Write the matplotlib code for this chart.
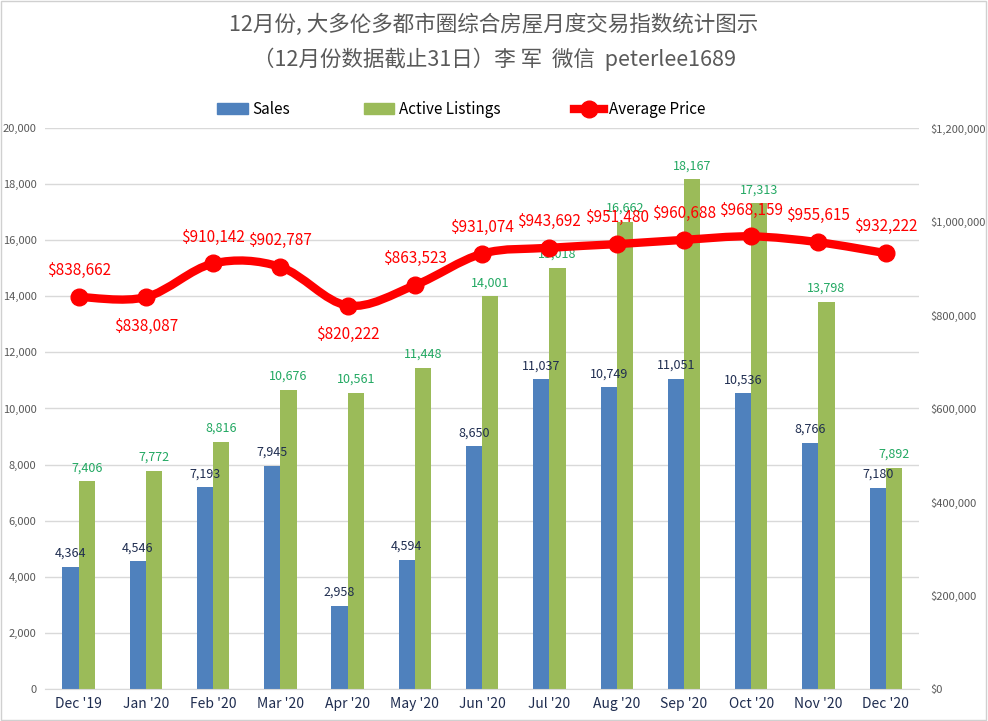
import numpy as np
import matplotlib.pyplot as plt
from matplotlib.path import Path
from matplotlib.patches import PathPatch, Rectangle
from matplotlib.lines import Line2D
from matplotlib.patches import Patch

plt.rcParams['font.family'] = ['Noto Sans CJK SC', 'DejaVu Sans']

months = ["Dec '19", "Jan '20", "Feb '20", "Mar '20", "Apr '20", "May '20", "Jun '20",
          "Jul '20", "Aug '20", "Sep '20", "Oct '20", "Nov '20", "Dec '20"]
sales = [4364, 4546, 7193, 7945, 2958, 4594, 8650, 11037, 10749, 11051, 10536, 8766, 7180]
listings = [7406, 7772, 8816, 10676, 10561, 11448, 14001, 15018, 16662, 18167, 17313, 13798, 7892]
prices = [838662, 838087, 910142, 902787, 820222, 863523, 931074, 943692, 951480,
          960688, 968159, 955615, 932222]
price_below = [False, True, False, False, True, False, False, False, False, False, False, False, False]

blue = '#4f81bd'
green = '#9bbb59'
red = '#ff0000'
grey = '#595959'

fig = plt.figure(figsize=(9.88, 7.21), dpi=100)
fig.patches.append(Rectangle((0.001, 0.001), 0.997, 0.997, transform=fig.transFigure,
                             fill=False, edgecolor='#d0d0d0', lw=1))
ax = fig.add_axes([0.0455, 0.0444, 0.885, 0.7781])
ax2 = ax.twinx()

x = np.arange(len(months))
w = 0.24
ax.bar(x - w / 2, sales, w, color=blue, zorder=2)
ax.bar(x + w / 2, listings, w, color=green, zorder=2)
for i in range(len(x)):
    ax.text(x[i] - w / 2, sales[i] + 250, f'{sales[i]:,}', ha='center', va='bottom',
            fontsize=9, color='#1f2d50', zorder=3)
    ax.text(x[i] + w / 2, listings[i] + 250, f'{listings[i]:,}', ha='center', va='bottom',
            fontsize=9, color='#22a862', zorder=3)

ax.set_xlim(-0.5, len(months) - 0.5)
ax.set_ylim(0, 20000)
ax.set_yticks(range(0, 20001, 2000))
ax.set_yticklabels([f'{v:,}' for v in range(0, 20001, 2000)])
ax.grid(axis='y', color='#d9d9d9', lw=1, zorder=0)
ax.set_axisbelow(True)
ax.set_xticks(x)
ax.set_xticklabels(months, fontsize=10, color='#1f2d50')
ax.tick_params(axis='y', length=0, labelsize=8, labelcolor=grey, pad=6)
ax.tick_params(axis='x', length=0, pad=6)
for s in ['top', 'left', 'right']:
    ax.spines[s].set_visible(False)
    ax2.spines[s].set_visible(False)
ax.spines['bottom'].set_color('#d9d9d9')
ax2.spines['bottom'].set_visible(False)

# smooth price line (Excel style), cubic bezier through the points
ax2.set_ylim(0, 1200000)
ax2.set_yticks(range(0, 1200001, 200000))
ax2.set_yticklabels(['$' + f'{v:,}' for v in range(0, 1200001, 200000)])
ax2.tick_params(axis='y', length=0, labelsize=8, labelcolor=grey, pad=8)
px = np.array(x, dtype=float)
py = np.array(prices, dtype=float)
verts = [(px[0], py[0])]
codes = [Path.MOVETO]
t = 1 / 6
for i in range(len(px) - 1):
    p0 = i - 1 if i > 0 else i
    p3 = i + 2 if i + 2 < len(px) else i + 1
    c1 = (px[i] + (px[i + 1] - px[p0]) * t, py[i] + (py[i + 1] - py[p0]) * t)
    c2 = (px[i + 1] - (px[p3] - px[i]) * t, py[i + 1] - (py[p3] - py[i]) * t)
    verts += [c1, c2, (px[i + 1], py[i + 1])]
    codes += [Path.CURVE4] * 3
ax2.add_patch(PathPatch(Path(verts, codes), fill=False, edgecolor=red, lw=6,
                        capstyle='round', joinstyle='round', zorder=4))
ax2.plot(px, py, 'o', color=red, ms=12, zorder=5)
for i in range(len(px)):
    off = -21 if price_below[i] else 19
    ax2.annotate(f'${prices[i]:,}', (px[i], py[i]), xytext=(0, off), textcoords='offset points',
                 ha='center', va='center', fontsize=11, color=red, zorder=6)

fig.text(0.5, 0.965, '12月份, 大多伦多都市圈综合房屋月度交易指数统计图示', ha='center', va='center',
         fontsize=15.5, color=grey)
fig.text(0.5, 0.918, '（12月份数据截止31日）李 军  微信  peterlee1689', ha='center', va='center',
         fontsize=15.5, color=grey)

handles = [Patch(color=blue), Patch(color=green),
           Line2D([0], [0], color=red, lw=6, marker='o', ms=12)]
fig.legend(handles, ['Sales', 'Active Listings', 'Average Price'], loc='center',
           bbox_to_anchor=(0.467, 0.848), ncol=3, frameon=False, fontsize=11,
           columnspacing=4.8, handlelength=2, handletextpad=0.3)

fig.savefig('out.png', dpi=100)
